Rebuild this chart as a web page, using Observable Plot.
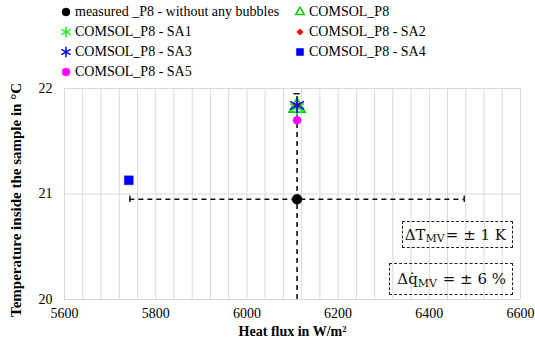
<!DOCTYPE html>
<html>
<head>
<meta charset="utf-8">
<script src="https://cdn.jsdelivr.net/npm/d3@7"></script>
<script src="https://cdn.jsdelivr.net/npm/@observablehq/plot@0.6"></script>
<style>
  body { margin: 0; background: #fff; }
  #wrap { position: relative; width: 535px; height: 345px; }
  #wrap, #wrap text, #wrap span, #wrap div { font-family: "Liberation Serif", "Times New Roman", serif; }
  #legend { position: absolute; left: 0; top: 0; width: 535px; height: 84px; font-size: 14px; color: #000; }
  .li { position: absolute; display: flex; align-items: center; white-space: nowrap; height: 18px; }
  .li svg { margin-right: 1px; }
  #wrap .box { position: absolute; box-sizing: border-box; border: 1.6px dashed #222; font-family: "DejaVu Serif", serif; font-size: 15px; color: #111; display: flex; align-items: center; justify-content: flex-end; padding-right: 6px; white-space: nowrap; }
  #wrap .box span.sub { font-family: "DejaVu Serif", serif; font-size: 11px; position: relative; top: 4px; margin-right: 1px; }
</style>
</head>
<body>
<div id="wrap">
  <div id="chart"></div>
  <div id="legend"></div>
  <div class="box" style="left:402px;top:221px;width:111px;height:27px;">ΔT<span class="sub">MV</span>= ± 1 K</div>
  <div class="box" style="left:389px;top:263px;width:124px;height:32px;">Δq̇<span class="sub">MV</span>&nbsp;= ± 6 %</div>
</div>
<script>
// ---- data ----
const seriesNames = [
  "measured _P8 - without any bubbles",
  "COMSOL_P8",
  "COMSOL_P8 - SA1",
  "COMSOL_P8 - SA2",
  "COMSOL_P8 - SA3",
  "COMSOL_P8 - SA4",
  "COMSOL_P8 - SA5"
];
const heatFlux    = [6110, 6110, 6110, 6110, 6110, 5741, 6110];
const temperature = [20.95, 21.82, 21.82, 21.84, 21.84, 21.13, 21.70];
const symbols     = ["circle", "triangle", "asterisk", "diamond2", "asterisk", "square", "circle"];
const colors      = ["#000000", "#00cc00", "#22ee22", "#ff0000", "#0000ff", "#0000ff", "#ff00ff"];
const filled      = [true, false, false, true, false, true, true];
const sizes       = [5, 6, 7.5, 3.2, 7.5, 5, 4];
const legendCol   = [0, 1, 0, 1, 0, 1, 0];
const legendRow   = [0, 0, 1, 1, 2, 2, 3];

const tempError = 1;        // K
const fluxErrorPct = 6;     // %

const xTicks = [5600, 5800, 6000, 6200, 6400, 6600];
const yTicks = [20, 21, 22];
const xGridStep = 40;

// ---- derived ----
const points = seriesNames.map((name, i) => ({
  name, x: heatFlux[i], y: temperature[i], symbol: symbols[i],
  color: colors[i], filled: filled[i], r: sizes[i]
}));
const meas = points[0];
const dq = meas.x * fluxErrorPct / 100;
const xLo = meas.x - dq, xHi = meas.x + dq;
const yLo = meas.y - tempError, yHi = meas.y + tempError;
const FONT = "'Liberation Serif', 'Times New Roman', serif";

const marks = [
  Plot.ruleX(d3.range(5600, 6601, xGridStep), {stroke: "#d9d9d9", strokeWidth: 1}),
  Plot.ruleY(yTicks, {stroke: "#d9d9d9", strokeWidth: 1}),
  Plot.axisX({ticks: xTicks, tickSize: 0, tickPadding: 9, tickFormat: d => String(d), label: null, fontSize: 14}),
  Plot.axisY({ticks: yTicks, tickSize: 0, tickPadding: 12, tickFormat: d => String(d), label: null, fontSize: 14}),
  // error bars
  Plot.ruleY([meas], {y: "y", x1: () => xLo, x2: () => xHi, stroke: "#111", strokeWidth: 1.6, strokeDasharray: "5,4"}),
  Plot.ruleX([meas], {x: "x", y1: () => Math.max(yLo, 20), y2: () => yHi, stroke: "#111", strokeWidth: 1.6, strokeDasharray: "5,4"}),
  Plot.ruleX([xLo, xHi], {x: d => d, y1: meas.y - 0.03, y2: meas.y + 0.03, stroke: "#111", strokeWidth: 1.4}),
  Plot.ruleY([yHi], {y: d => d, x1: meas.x - 7, x2: meas.x + 7, stroke: "#111", strokeWidth: 1.4}),
  // points
  ...points.map(p => Plot.dot([p], {
    x: "x", y: "y", symbol: () => p.symbol, r: p.r,
    fill: p.filled ? p.color : "none",
    stroke: p.color, strokeWidth: p.filled ? 0.5 : 1.6
  })),
  // axis titles
  Plot.text(["Heat flux in W/m²"], {text: d => d, frameAnchor: "bottom", dy: 36, fontWeight: "bold", fontSize: 14, fontFamily: FONT}),
  Plot.text(["Temperature inside the sample in °C"], {text: d => d, frameAnchor: "left", textAnchor: "middle", dx: -48, dy: 6, rotate: -90, fontWeight: "bold", fontSize: 15, fontFamily: FONT})
];

const chart = Plot.plot({
  width: 535,
  height: 345,
  marginLeft: 64,
  marginRight: 15,
  marginTop: 88,
  marginBottom: 46,
  style: {fontFamily: FONT, fontSize: "14px", color: "#000", background: "transparent", overflow: "visible"},
  x: {domain: [5600, 6600]},
  y: {domain: [20, 22]},
  symbol: {type: "identity"},
  marks
});
document.getElementById("chart").appendChild(chart);

// ---- legend ----
const legend = document.getElementById("legend");
const colX = [58, 292];
const rowY = [3, 23, 43, 63];
points.forEach((p, i) => {
  const div = document.createElement("div");
  div.className = "li";
  div.style.left = colX[legendCol[i]] + "px";
  div.style.top = rowY[legendRow[i]] + "px";
  const s = d3.create("svg").attr("width", 16).attr("height", 16);
  const symMap = {circle: d3.symbolCircle, triangle: d3.symbolTriangle2, asterisk: d3.symbolAsterisk, diamond2: d3.symbolDiamond2, square: d3.symbolSquare};
  const lr = p.symbol === "asterisk" ? 5 : p.symbol === "diamond2" ? 3 : 4;
  s.append("path")
    .attr("transform", "translate(8,8)")
    .attr("d", d3.symbol(symMap[p.symbol], Math.PI * lr * lr)())
    .attr("fill", p.filled ? p.color : "none")
    .attr("stroke", p.color)
    .attr("stroke-width", p.filled ? 0.5 : 1.5);
  div.appendChild(s.node());
  const t = document.createElement("span");
  t.textContent = p.name;
  div.appendChild(t);
  legend.appendChild(div);
});
</script>
</body>
</html>
